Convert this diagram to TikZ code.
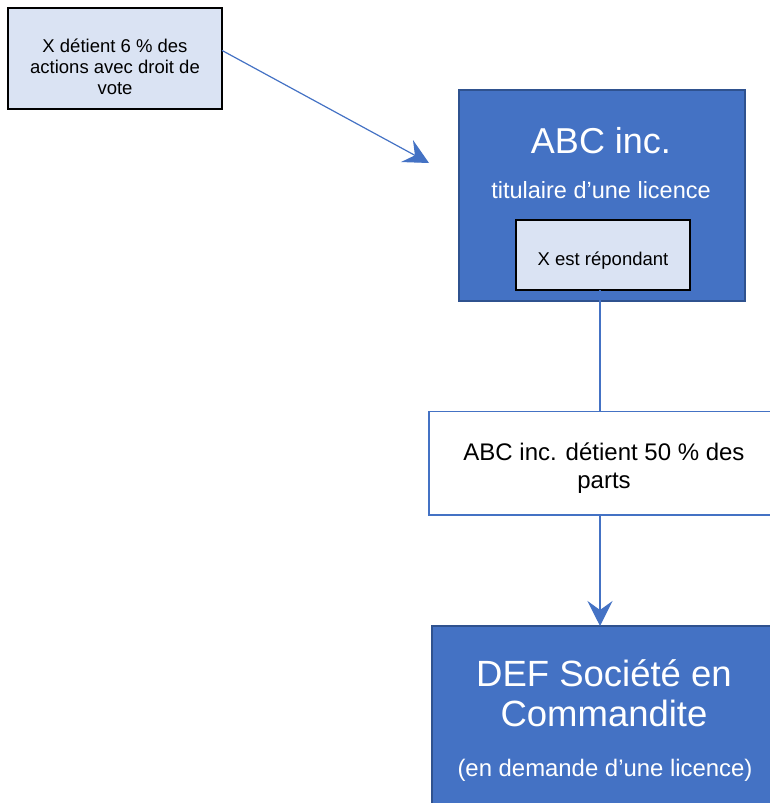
\documentclass[tikz,border=0pt]{standalone}
\usepackage{fontspec}
\setmainfont{Liberation Sans}
\usetikzlibrary{arrows.meta,calc}

\definecolor{accent}{HTML}{4472C4}
\definecolor{accentdark}{HTML}{2F528F}
\definecolor{pale}{HTML}{DAE3F3}

\tikzset{
  box/.style={rectangle, inner sep=0pt, outer sep=0pt},
  notebox/.style={box, fill=pale, draw=black, line width=1.6pt},
  entity/.style={box, fill=accent, draw=accentdark, line width=1.8pt},
  sharebox/.style={box, fill=white, draw=accent, line width=1.6pt},
  label/.style={inner sep=0pt, anchor=base},
  link/.style={draw=accent, line width=1.2pt},
  flow/.style={link, -{Stealth[length=25pt, width=25pt, inset=9pt]}},
}

\begin{document}
\begin{tikzpicture}[x=1pt, y=-1pt]
  \useasboundingbox (0,0) rectangle (770,803);
  \clip (0,0) rectangle (770,803);

  % shareholder note
  \node[notebox, minimum width=214pt, minimum height=101pt] (xbox) at (115,58.5) {};
  \node[label, font=\fontsize{18.5}{21}\selectfont] (xt1) at (115,52.5) {X détient 6 \% des};
  \node[label, font=\fontsize{18.5}{21}\selectfont] (xt2) at (115,73.5) {actions avec droit de};
  \node[label, font=\fontsize{18.5}{21}\selectfont] (xt3) at (115,94.5) {vote};

  % licence holder
  \node[entity, minimum width=286pt, minimum height=211pt] (abc) at (602,195.5) {};
  \node[label, text=white, font=\fontsize{36}{41}\selectfont] (abct) at (601,153) {ABC inc.};
  \node[label, text=white, font=\fontsize{23.5}{27}\selectfont] (abcs) at (601,198) {titulaire d’une licence};
  \node[notebox, minimum width=174pt, minimum height=70pt] (resp) at (603,255) {};
  \node[label, font=\fontsize{18.5}{21}\selectfont] (respt) at (603,265) {X est répondant};

  % ownership share
  \node[sharebox, minimum width=350pt, minimum height=103.5pt] (share) at (604,463.25) {};
  \node[label, font=\fontsize{24}{28}\selectfont] (sht1) at (604,460) {ABC inc. détient 50 \% des};
  \node[label, font=\fontsize{24}{28}\selectfont] (sht2) at (604,488) {parts};

  % applicant partnership
  \node[entity, line width=1.5pt, minimum width=344pt, minimum height=234pt] (def) at (604,743) {};
  \node[label, text=white, font=\fontsize{36.5}{40}\selectfont] (deft1) at (604,686) {DEF Société en};
  \node[label, text=white, font=\fontsize{36.5}{40}\selectfont] (deft2) at (604,726) {Commandite};
  \node[label, text=white, font=\fontsize{23.9}{27}\selectfont] (defs) at (605,776) {(en demande d’une licence)};

  % connectors
  \coordinate (abcin) at (429,163);
  \coordinate (spine) at (600,0);
  \draw[flow] ($(xbox.north east)!0.42!(xbox.south east)$) -- (abcin);
  \draw[link] (resp.south -| spine) -- (share.north -| spine);
  \draw[flow] (share.south -| spine) -- (def.north -| spine);
\end{tikzpicture}
\end{document}
